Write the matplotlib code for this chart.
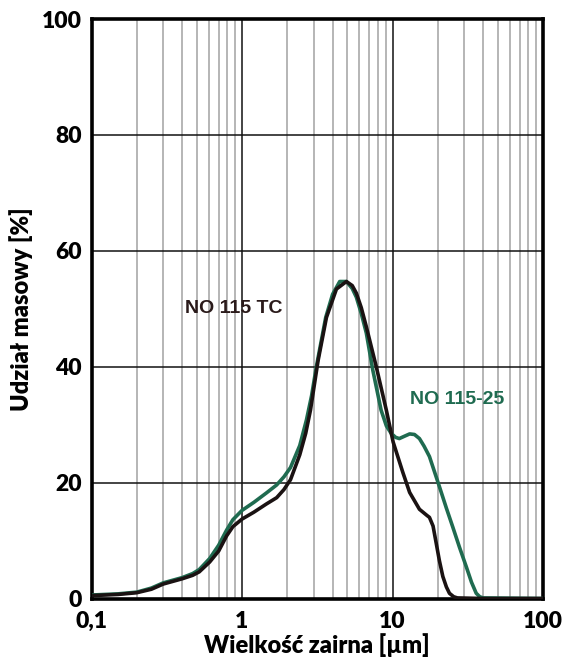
import matplotlib
matplotlib.use("Agg")
import matplotlib.pyplot as plt
from matplotlib.ticker import FixedLocator, LogLocator, NullFormatter
import numpy as np

# Black curve: NO 115 TC
tc_x = [0.1, 0.15, 0.2, 0.25, 0.3, 0.4, 0.47, 0.52, 0.61, 0.7, 0.79, 0.87, 1.0, 1.2,
        1.45, 1.7, 1.9, 2.1, 2.42, 2.65, 2.85, 3.2, 3.64, 4.24, 4.94, 5.4, 5.75, 6.2,
        6.7, 7.8, 9.1, 10.1, 11.7, 13.0, 15.1, 17.0, 17.6, 18.6, 19.5, 20.5, 21.6,
        22.8, 23.9, 25.5, 27.0, 40.0, 100.0]
tc_y = [0.5, 0.7, 1.0, 1.6, 2.5, 3.4, 4.0, 4.6, 6.3, 8.2, 10.8, 12.4, 13.7, 14.9,
        16.3, 17.4, 18.8, 20.5, 24.8, 28.5, 32.5, 41.0, 48.5, 53.4, 54.7, 54.0, 52.7, 50.2,
        46.9, 40.0, 32.5, 27.0, 21.8, 18.3, 15.4, 14.3, 14.0, 12.5, 9.6, 6.5, 3.8,
        2.0, 0.9, 0.3, 0.1, 0.0, 0.0]

# Green curve: NO 115-25
g_x = [0.1, 0.15, 0.2, 0.25, 0.3, 0.4, 0.47, 0.52, 0.61, 0.7, 0.79, 0.87, 1.0, 1.2,
       1.45, 1.7, 1.9, 2.1, 2.42, 2.68, 2.9, 3.12, 3.6, 4.0, 4.46, 4.94, 5.4, 5.75,
       6.2, 6.7, 7.4, 8.4, 9.1, 9.8, 10.5, 11.1, 12.0, 13.0, 14.0, 15.1, 16.2, 17.6,
       20.5, 22.8, 25.1, 27.9, 30.9, 33.5, 36.0, 38.0, 40.0, 100.0]
g_y = [0.6, 0.8, 1.1, 1.8, 2.7, 3.6, 4.3, 5.0, 6.9, 9.2, 11.8, 13.6, 15.2, 16.6,
       18.2, 19.6, 21.0, 22.6, 26.4, 30.8, 35.0, 40.0, 48.5, 52.5, 54.7, 54.7, 53.5, 52.0,
       49.2, 45.8, 39.4, 32.5, 29.8, 28.5, 27.8, 27.6, 28.0, 28.4, 28.3, 27.6, 26.3, 24.5,
       19.3, 15.6, 12.4, 8.8, 5.5, 2.8, 0.9, 0.3, 0.1, 0.0]

x_ticks = [0.1, 1, 10, 100]
x_ticklabels = ["0,1", "1", "10", "100"]
y_ticks = [0, 20, 40, 60, 80, 100]
y_ticklabels = ["0", "20", "40", "60", "80", "100"]

label_tc = "NO 115 TC"
label_g = "NO 115-25"

GREEN = "#1f6b50"
BLACK = "#1a1212"

fig = plt.figure(figsize=(5.66, 6.66), dpi=100)
ax = fig.add_axes([91.5 / 566, 1 - 598.5 / 666, (543 - 91.5) / 566, (598.5 - 19) / 666])

ax.set_xscale("log")
ax.set_xlim(0.1, 100)
ax.set_ylim(0, 100)

ax.xaxis.set_major_locator(FixedLocator(x_ticks))
ax.xaxis.set_minor_locator(LogLocator(base=10, subs=np.arange(2, 10)))
ax.xaxis.set_minor_formatter(NullFormatter())
ax.set_xticks(x_ticks)
ax.set_xticklabels(x_ticklabels)
ax.set_yticks(y_ticks)
ax.set_yticklabels(y_ticklabels)

ax.grid(which="minor", axis="x", color="#b0b0b0", linewidth=1.3, zorder=0)
ax.grid(which="major", axis="both", color="#111111", linewidth=1.1, zorder=1)
ax.set_axisbelow(True)

ax.tick_params(which="both", length=0)
ax.tick_params(axis="x", pad=9)
ax.tick_params(axis="y", pad=7)
for lab in ax.get_xticklabels() + ax.get_yticklabels():
    lab.set_fontfamily("Lato")
    lab.set_fontweight("heavy")
    lab.set_fontsize(16.5)

for sp in ax.spines.values():
    sp.set_linewidth(2.6)
    sp.set_color("#000000")

ax.plot(g_x, g_y, color=GREEN, linewidth=2.6, zorder=3, solid_joinstyle="round",
        solid_capstyle="round")
ax.plot(tc_x, tc_y, color=BLACK, linewidth=2.6, zorder=4, solid_joinstyle="round",
        solid_capstyle="round")

ax.text(0.88, 50.0, label_tc, color="#2a1a1a", fontsize=14, fontweight="bold",
        fontfamily="Liberation Sans", ha="center", va="center", zorder=5)
ax.text(27.0, 34.4, label_g, color=GREEN, fontsize=14, fontweight="bold",
        fontfamily="Liberation Sans", ha="center", va="center", zorder=5)

ax.set_xlabel("Wielkość zairna [µm]", fontfamily="Lato", fontweight="heavy", fontsize=17, labelpad=1)
ax.set_ylabel("Udział masowy [%]", fontfamily="Lato", fontweight="heavy", fontsize=17, labelpad=6)

fig.savefig("out.png", dpi=100)
